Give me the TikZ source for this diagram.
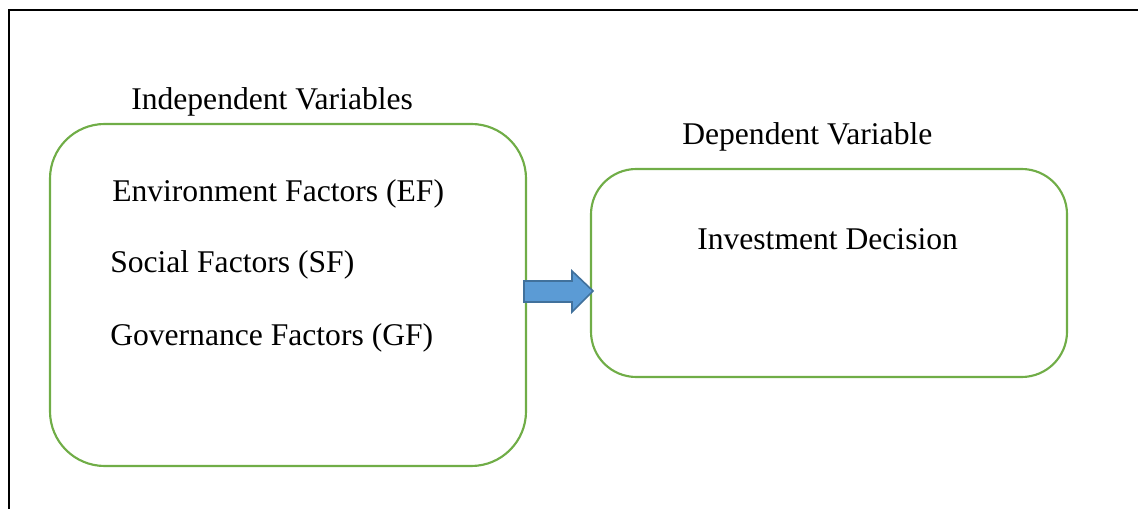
\documentclass[tikz,border=0pt]{standalone}
\usepackage{fontspec}
\setmainfont{Liberation Serif}
\usetikzlibrary{positioning}
\definecolor{boxgreen}{RGB}{112,173,71}
\definecolor{arrfill}{RGB}{91,155,213}
\definecolor{arrline}{RGB}{65,113,156}
\tikzset{
  varbox/.style={draw=boxgreen, line width=1.6pt, rectangle, inner sep=0pt},
  vartext/.style={inner sep=0pt, font=\fontsize{23.7}{28}\selectfont},
}

\begin{document}
\begin{tikzpicture}[x=0.75pt,y=0.75pt,yscale=-1,xscale=1]
\useasboundingbox (0,0) rectangle (1138,509);

%Frame
\draw [line width=1.5pt] (9,509) -- (9,10) -- (1138,10) ;

%Shape: Rounded Rect [id:indep]
\node [varbox, rounded corners=41pt, minimum width=357pt, minimum height=256.5pt] (indep) at (288,295) {};
%Shape: Rounded Rect [id:dep]
\node [varbox, rounded corners=34pt, minimum width=357pt, minimum height=156pt] (dep) at (829,273) {};

%Shape: Right Arrow [id:arr]
\draw [fill=arrfill, draw=arrline, line width=1.2pt] (524,281) -- (572,281) -- (572,271) -- (593,291) -- (572,312) -- (572,302) -- (524,302) -- cycle ;

% Text Node
\node [vartext, anchor=base west] (indeplabel) at (131,110) {Independent Variables};
% Text Node
\node [vartext, anchor=base west] (deplabel) at (682,145) {Dependent Variable};
% Text Node
\node [vartext, anchor=base west] (ef) at (112,202) {Environment Factors (EF)};
% Text Node
\node [vartext, anchor=base west] (sf) at (110,273) {Social Factors (SF)};
% Text Node
\node [vartext, anchor=base west] (gf) at (110,345) {Governance Factors (GF)};
% Text Node
\node [vartext, anchor=base west] (decision) at (697,250) {Investment Decision};

\end{tikzpicture}
\end{document}
